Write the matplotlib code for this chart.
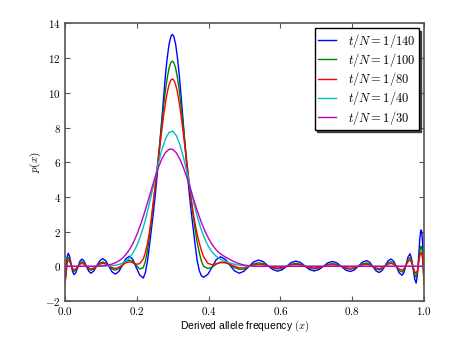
import numpy as np
import matplotlib
matplotlib.use("Agg")
import matplotlib.pyplot as plt

plt.rcParams['mathtext.fontset'] = 'cm'
plt.rcParams['font.family'] = ['Liberation Sans', 'DejaVu Sans']

# shared x grid for the three oscillating series
x = [0.000, 0.003, 0.006, 0.009,
     0.013, 0.017, 0.021, 0.025,
     0.0305, 0.036, 0.0415, 0.047,
     0.053, 0.0595, 0.066, 0.072,
     0.080, 0.088, 0.097, 0.105,
     0.114, 0.122, 0.131, 0.140,
     0.150, 0.160, 0.169, 0.179,
     0.189, 0.198, 0.208, 0.218,
     0.224, 0.230, 0.235, 0.240, 0.245, 0.250, 0.255, 0.260, 0.265, 0.270,
     0.275, 0.280, 0.285, 0.290, 0.295, 0.299,
     0.303, 0.308, 0.313, 0.318, 0.323, 0.328, 0.333, 0.338, 0.343, 0.348,
     0.353, 0.358, 0.363, 0.368, 0.374, 0.380, 0.386,
     0.398, 0.410, 0.421, 0.433,
     0.446, 0.459, 0.472, 0.485,
     0.498, 0.512, 0.525, 0.539,
     0.552, 0.565, 0.579, 0.592,
     0.605, 0.618, 0.630, 0.643,
     0.656, 0.668, 0.681, 0.694,
     0.707, 0.720, 0.732, 0.745,
     0.757, 0.770, 0.782, 0.795,
     0.806, 0.8175, 0.829, 0.840,
     0.849, 0.8575, 0.866, 0.875,
     0.883, 0.8915, 0.900, 0.908,
     0.916, 0.9235, 0.931, 0.939,
     0.9445, 0.950, 0.9555, 0.961,
     0.965, 0.9695, 0.974, 0.978,
     0.9815, 0.985, 0.9885, 0.992,
     0.994, 0.996, 0.998, 1.000]

p_140 = [-1.00, -0.15, 0.55, 0.75,
         0.57, 0.14, -0.30, -0.48,
         -0.35, -0.03, 0.29, 0.42,
         0.30, 0.01, -0.28, -0.40,
         -0.28, 0.02, 0.32, 0.44,
         0.31, 0.00, -0.32, -0.45,
         -0.30, 0.07, 0.43, 0.58,
         0.40, -0.05, -0.50, -0.68,
         -0.35, 0.35, 1.15, 2.00, 2.88, 3.83, 4.88, 6.06, 7.33, 8.63,
         9.91, 11.08, 12.07, 12.82, 13.26, 13.37,
         13.26, 12.82, 12.07, 11.08, 9.91, 8.63, 7.33, 6.06, 4.88, 3.83,
         2.88, 2.00, 1.15, 0.35, -0.25, -0.55, -0.63,
         -0.46, -0.04, 0.38, 0.55,
         0.41, 0.08, -0.26, -0.40,
         -0.29, -0.02, 0.25, 0.36,
         0.27, 0.04, -0.19, -0.28,
         -0.20, 0.01, 0.22, 0.30,
         0.22, 0.02, -0.19, -0.27,
         -0.19, 0.00, 0.20, 0.28,
         0.20, -0.01, -0.22, -0.30,
         -0.21, 0.02, 0.24, 0.33,
         0.23, -0.02, -0.26, -0.36,
         -0.25, 0.03, 0.31, 0.42,
         0.28, -0.05, -0.38, -0.52,
         -0.34, 0.10, 0.54, 0.72,
         0.47, -0.13, -0.72, -0.97,
         -0.52, 0.57, 1.65, 2.10,
         1.95, 1.30, 0.20, -1.00]

p_100 = [-1.00, -0.30, 0.35, 0.52,
         0.40, 0.11, -0.18, -0.30,
         -0.22, -0.02, 0.18, 0.26,
         0.19, 0.02, -0.16, -0.23,
         -0.16, 0.01, 0.18, 0.25,
         0.18, 0.02, -0.15, -0.22,
         -0.14, 0.07, 0.28, 0.36,
         0.28, 0.08, -0.16, -0.08,
         0.30, 0.95, 1.70, 2.50, 3.40, 4.37, 5.29, 6.29, 7.32, 8.34,
         9.31, 10.18, 10.90, 11.44, 11.75, 11.83,
         11.75, 11.44, 10.90, 10.18, 9.31, 8.34, 7.32, 6.29, 5.29, 4.37,
         3.52, 2.75, 2.05, 1.40, 0.80, 0.30, 0.00,
         -0.13, -0.05, 0.12, 0.24,
         0.24, 0.10, -0.07, -0.17,
         -0.16, -0.01, 0.14, 0.20,
         0.15, 0.02, -0.10, -0.15,
         -0.11, 0.01, 0.12, 0.17,
         0.12, 0.01, -0.10, -0.15,
         -0.10, 0.00, 0.11, 0.155,
         0.11, -0.01, -0.12, -0.17,
         -0.12, 0.01, 0.13, 0.19,
         0.13, -0.01, -0.15, -0.21,
         -0.14, 0.02, 0.19, 0.26,
         0.17, -0.04, -0.24, -0.33,
         -0.21, 0.08, 0.38, 0.50,
         0.34, -0.06, -0.46, -0.62,
         -0.36, 0.27, 0.89, 1.15,
         1.05, 0.65, -0.05, -1.00]

p_80 = [-1.00, -0.40, 0.20, 0.36,
        0.28, 0.08, -0.12, -0.20,
        -0.14, -0.01, 0.12, 0.17,
        0.12, 0.01, -0.10, -0.15,
        -0.10, 0.01, 0.12, 0.17,
        0.13, 0.03, -0.08, -0.12,
        -0.06, 0.07, 0.20, 0.26,
        0.20, 0.12, 0.15, 0.42,
        0.80, 1.35, 1.95, 2.70, 3.55, 4.45, 5.28, 6.16, 7.05, 7.92,
        8.73, 9.45, 10.05, 10.48, 10.74, 10.80,
        10.74, 10.48, 10.05, 9.45, 8.73, 7.92, 7.05, 6.16, 5.28, 4.45,
        3.68, 2.99, 2.38, 1.86, 1.35, 0.90, 0.55,
        0.17, 0.09, 0.15, 0.21,
        0.20, 0.12, 0.01, -0.09,
        -0.10, -0.01, 0.08, 0.12,
        0.09, 0.01, -0.07, -0.10,
        -0.07, 0.00, 0.08, 0.11,
        0.08, 0.01, -0.07, -0.10,
        -0.07, 0.00, 0.07, 0.10,
        0.07, 0.00, -0.08, -0.11,
        -0.08, 0.00, 0.08, 0.12,
        0.08, -0.01, -0.09, -0.13,
        -0.08, 0.02, 0.12, 0.17,
        0.11, -0.03, -0.16, -0.22,
        -0.13, 0.07, 0.27, 0.36,
        0.24, -0.03, -0.30, -0.42,
        -0.24, 0.19, 0.62, 0.80,
        0.72, 0.40, -0.20, -1.00]

x_40 = [0.00, 0.10, 0.11, 0.12, 0.13, 0.14, 0.15, 0.16, 0.17, 0.18, 0.19,
        0.20, 0.21, 0.22, 0.23, 0.24, 0.25, 0.26, 0.27, 0.28, 0.29,
        0.30, 0.31, 0.32, 0.33, 0.34, 0.35, 0.36, 0.37, 0.38, 0.39,
        0.40, 0.41, 0.42, 0.43, 0.44, 0.45, 0.46, 0.47, 0.48, 0.49,
        0.50, 0.51, 0.52, 1.00]
p_40 = [0.00, 0.00, 0.01, 0.02, 0.03, 0.06, 0.10, 0.18, 0.31, 0.50, 0.79,
        1.19, 1.72, 2.38, 3.18, 4.07, 5.01, 5.93, 6.74, 7.36, 7.72,
        7.79, 7.54, 7.02, 6.27, 5.39, 4.45, 3.55, 2.75, 2.08, 1.55,
        1.12, 0.82, 0.60, 0.45, 0.34, 0.26, 0.19, 0.13, 0.09, 0.05,
        0.03, 0.01, 0.00, 0.00]

x_30 = [0.00, 0.08, 0.09, 0.10, 0.11, 0.12, 0.13, 0.14, 0.15, 0.16, 0.17,
        0.18, 0.19, 0.20, 0.21, 0.22, 0.23, 0.24, 0.25, 0.26, 0.27,
        0.28, 0.29, 0.295, 0.30, 0.31, 0.32, 0.33, 0.34, 0.35, 0.36, 0.37,
        0.38, 0.39, 0.40, 0.41, 0.42, 0.43, 0.44, 0.45, 0.46, 0.47,
        0.48, 0.49, 0.50, 0.51, 0.52, 0.53, 0.54, 1.00]
p_30 = [0.00, 0.00, 0.01, 0.02, 0.04, 0.08, 0.12, 0.20, 0.31, 0.47, 0.69,
        0.98, 1.35, 1.82, 2.37, 3.00, 3.68, 4.38, 5.07, 5.69, 6.21,
        6.57, 6.74, 6.76, 6.74, 6.55, 6.18, 5.68, 5.08, 4.42, 3.75, 3.10,
        2.52, 2.02, 1.60, 1.25, 0.97, 0.77, 0.62, 0.50, 0.38, 0.28,
        0.19, 0.12, 0.07, 0.04, 0.02, 0.01, 0.00, 0.00]

labels = [r'$t/N = 1/140$', r'$t/N = 1/100$', r'$t/N = 1/80$',
          r'$t/N = 1/40$', r'$t/N = 1/30$']
colors = ['#0000ff', '#008000', '#ff0000', '#00bfbf', '#bf00bf']

xticks = [0.0, 0.2, 0.4, 0.6, 0.8, 1.0]
yticks = [-2, 0, 2, 4, 6, 8, 10, 12, 14]

fig = plt.figure(figsize=(4.63, 3.48), dpi=100)
ax = fig.add_axes([0.1404, 0.1351, 0.7754, 0.7974])

series = [(x, p_140), (x, p_100), (x, p_80), (x_40, p_40), (x_30, p_30)]
for (xs, ys), lab, col in zip(series, labels, colors):
    ax.plot(xs, ys, color=col, lw=1.0, label=lab)

ax.set_xlim(0, 1)
ax.set_ylim(-2, 14)
ax.set_xticks(xticks)
ax.set_yticks(yticks)
ax.set_xticklabels([r'$%.1f$' % v for v in xticks], fontsize=8)
ax.set_yticklabels([r'$%d$' % v for v in yticks], fontsize=8)
ax.tick_params(direction='in', length=3.5, width=0.8, top=True, right=True,
               colors='#555555', labelcolor='black', pad=3)
for s in ax.spines.values():
    s.set_color('#555555')
    s.set_linewidth(1.2)

ax.set_xlabel(r'Derived allele frequency $(x)$', fontsize=7.5, labelpad=1)
ax.set_ylabel(r'$p(x)$', fontsize=8, labelpad=2)

leg = ax.legend(loc='upper right', fontsize=9,
                shadow={'color': '#333333', 'alpha': 0.9, 'ox': 1.5, 'oy': -1.5},
                fancybox=False, handlelength=1.4, handletextpad=1.0,
                labelspacing=0.1, borderpad=0.25, borderaxespad=0.4)
leg.get_frame().set_edgecolor('black')
leg.get_frame().set_linewidth(1.0)

fig.savefig('out.png', dpi=100)
